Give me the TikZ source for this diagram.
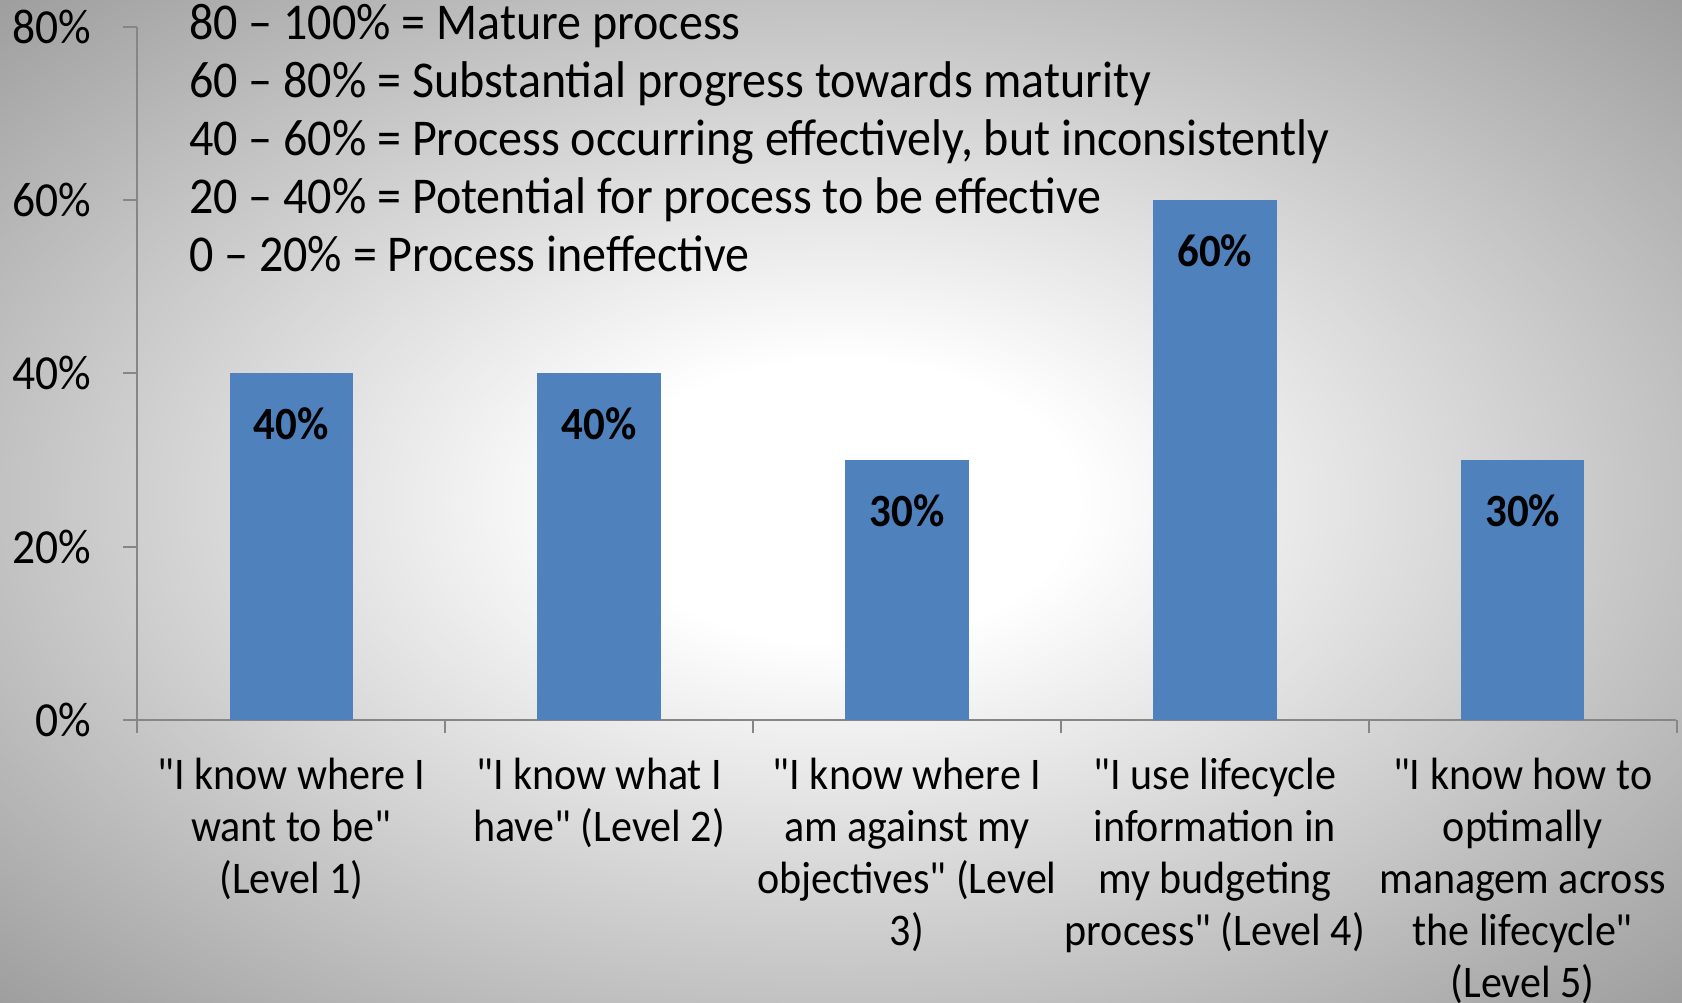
\documentclass[tikz,border=0pt]{standalone}
\usepackage{fontspec}
\setmainfont{Carlito}[FakeStretch=0.93,Ligatures=TeXOff]
\definecolor{barblue}{HTML}{4F81BD}
\definecolor{axisgray}{HTML}{868686}
\definecolor{bgedge}{HTML}{9C9C9C}
\pgfdeclareradialshading{slidebg}{\pgfpoint{0bp}{0bp}}{color(0bp)=(white); color(7bp)=(white); color(36bp)=(bgedge); color(50bp)=(bgedge)}
\newcommand{\pct}[1]{(671-8.075*#1)}

\begin{document}
\begin{tikzpicture}[x=0.02cm,y=-0.02cm,
  axis/.style={axisgray,line width=1.1pt},
  ylab/.style={anchor=east,inner sep=0pt,font=\fontsize{26}{28}\selectfont},
  barlab/.style={inner sep=0pt,font=\fontsize{24.5}{27}\selectfont\bfseries},
  catlab/.style={anchor=north,align=center,inner sep=0pt,font=\fontsize{24}{27.6}\selectfont},
  legend/.style={anchor=base west,inner sep=0pt,font=\fontsize{27.4}{30}\selectfont}]
  \shade[shading=slidebg] (0,0) rectangle (1568,935);
  \useasboundingbox (0,0) rectangle (1568,935);
  % value axis
  \draw[axis] (128,25) -- (128,683);
  \foreach \v in {0,20,...,80} {
    \draw[axis] (115,{\pct{\v}}) -- (128,{\pct{\v}});
    \node[ylab] (y\v) at (85,{\pct{\v}}) {\v\%};
  }
  % category axis
  \draw[axis] (115,671) -- (1562,671);
  \foreach \k in {1,...,5}
    \draw[axis] ({128+287*\k},671) -- ++(0,12);
  % bars
  \foreach \v [count=\i] in {40,40,30,60,30} {
    \fill[barblue] ({128+287*(\i-0.5)-57.5},671) rectangle ++(115,{-8.075*\v});
    \node[barlab] (b\i) at ({128+287*(\i-0.5)},{\pct{\v}+47}) {\v\%};
  }
  \node[catlab] (c1) at (271.5,706) {"I know where I\\want to be"\\(Level 1)};
  \node[catlab] (c2) at (558.5,706) {"I know what I\\have" (Level 2)};
  \node[catlab] (c3) at (845.5,706) {"I know where I\\am against my\\objectives" (Level\\3)};
  \node[catlab] (c4) at (1132.5,706) {"I use lifecycle\\information in\\my budgeting\\process" (Level 4)};
  \node[catlab] (c5) at (1419.5,706) {"I know how to\\optimally\\managem across\\the lifecycle"\\(Level 5)};
  % maturity key
  \foreach \t [count=\i] in {80 – 100\% = Mature process,
      60 – 80\% = Substantial progress towards maturity,
      {40 – 60\% = Process occurring effectively, but inconsistently},
      20 – 40\% = Potential for process to be effective,
      0 – 20\% = Process ineffective}
    \node[legend] (k\i) at (176,{37+54*(\i-1)}) {\t};
\end{tikzpicture}
\end{document}
